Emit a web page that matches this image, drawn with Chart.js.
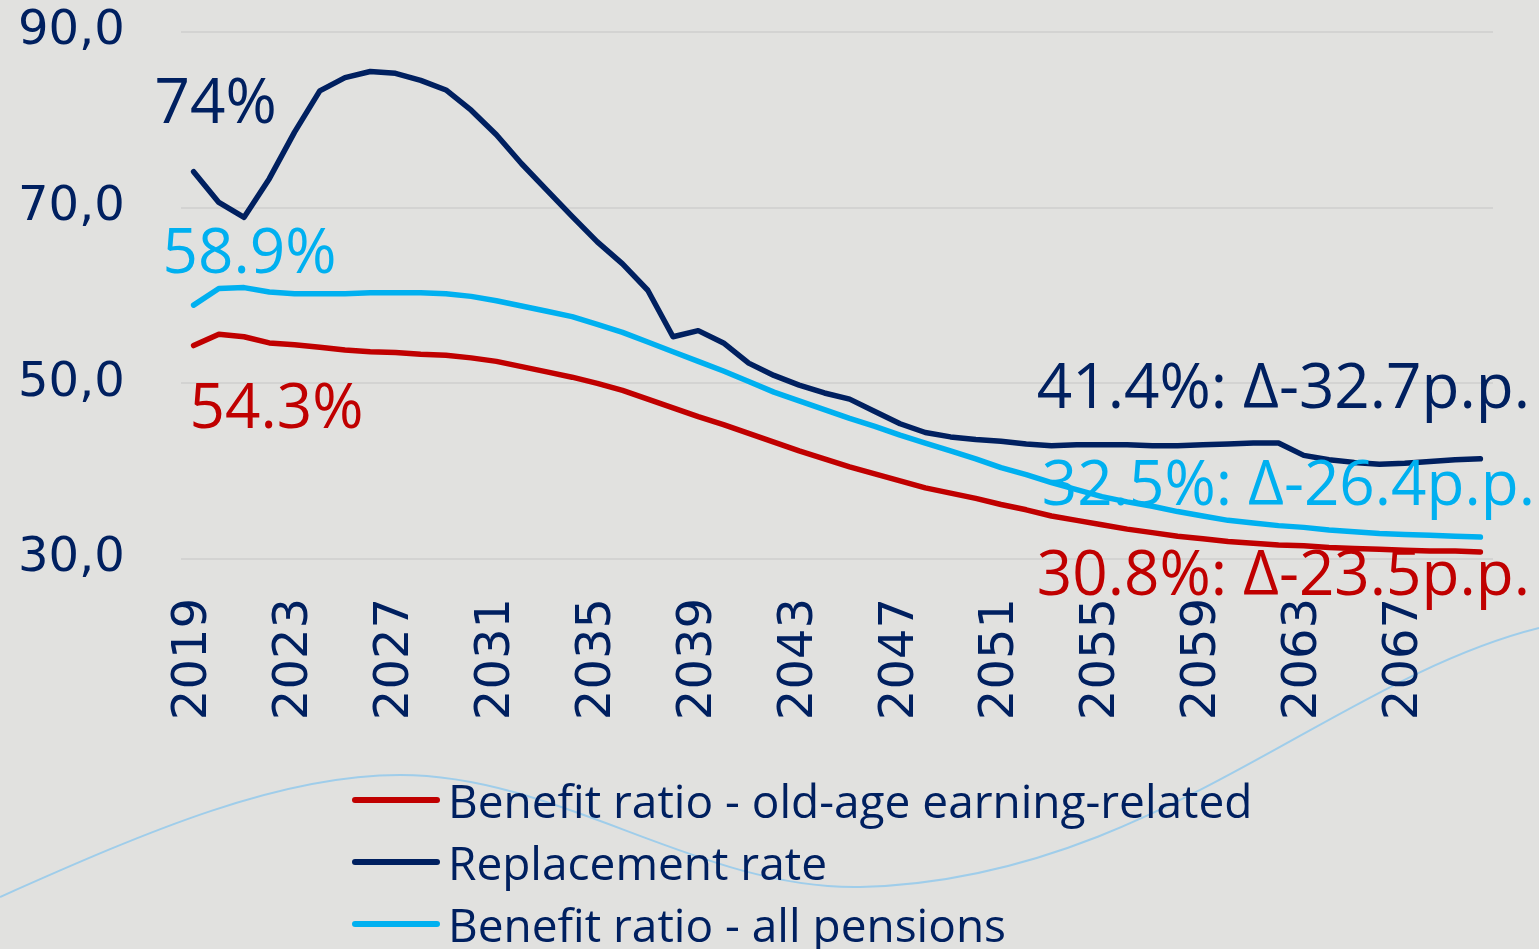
<!DOCTYPE html>
<html>
<head>
<meta charset="utf-8">
<script src="https://cdn.jsdelivr.net/npm/chart.js@4.4.1/dist/chart.umd.min.js"></script>
<style>
    html, body { margin: 0; padding: 0; background: #e1e1df; overflow: hidden; }
    #wrap { position: relative; width: 1539px; height: 949px; }
    #legend {
        position: absolute; left: 352px; top: 769px;
        font-family: "Open Sans", sans-serif; font-size: 46px; color: #002060;
    }
    .item { display: flex; align-items: center; height: 62px; white-space: nowrap; }
    .swatch { width: 88px; height: 6px; margin-right: 8px; border-radius: 3px; }
</style>
</head>
<body>
<div id="wrap">
    <canvas id="pensionChart" width="1539" height="949"></canvas>
    <div id="legend"></div>
</div>
<script>
// Data
const years = [
    2019, 2020, 2021, 2022, 2023, 2024, 2025, 2026, 2027, 2028,
    2029, 2030, 2031, 2032, 2033, 2034, 2035, 2036, 2037, 2038,
    2039, 2040, 2041, 2042, 2043, 2044, 2045, 2046, 2047, 2048,
    2049, 2050, 2051, 2052, 2053, 2054, 2055, 2056, 2057, 2058,
    2059, 2060, 2061, 2062, 2063, 2064, 2065, 2066, 2067, 2068,
    2069, 2070
];
const oldAgeRatio = [
    54.3, 55.6, 55.3, 54.6, 54.4, 54.1, 53.8, 53.6, 53.5, 53.3,
    53.2, 52.9, 52.5, 51.9, 51.3, 50.7, 50.0, 49.2, 48.2, 47.2,
    46.2, 45.3, 44.3, 43.3, 42.3, 41.4, 40.5, 39.7, 38.9, 38.1,
    37.5, 36.9, 36.2, 35.6, 34.9, 34.4, 33.9, 33.4, 33.0, 32.6,
    32.3, 32.0, 31.8, 31.6, 31.5, 31.3, 31.2, 31.1, 31.0, 30.9,
    30.9, 30.8
];
const replacementRate = [
    74.1, 70.6, 68.9, 73.3, 78.6, 83.3, 84.8, 85.5, 85.3, 84.5,
    83.4, 81.1, 78.3, 75.0, 72.0, 69.0, 66.1, 63.6, 60.6, 55.3,
    56.0, 54.6, 52.3, 50.9, 49.8, 48.9, 48.2, 46.8, 45.4, 44.4,
    43.9, 43.6, 43.4, 43.1, 42.9, 43.0, 43.0, 43.0, 42.9, 42.9,
    43.0, 43.1, 43.2, 43.2, 41.8, 41.3, 41.0, 40.8, 40.9, 41.1,
    41.3, 41.4
];
const allPensionsRatio = [
    58.9, 60.8, 60.9, 60.4, 60.2, 60.2, 60.2, 60.3, 60.3, 60.3,
    60.2, 59.9, 59.4, 58.8, 58.2, 57.6, 56.7, 55.8, 54.7, 53.6,
    52.5, 51.4, 50.2, 49.0, 48.0, 47.0, 46.0, 45.1, 44.1, 43.2,
    42.3, 41.4, 40.4, 39.6, 38.7, 37.9, 37.1, 36.5, 36.0, 35.4,
    34.9, 34.4, 34.1, 33.8, 33.6, 33.3, 33.1, 32.9, 32.8, 32.7,
    32.6, 32.5
];
const yTicks = [30, 50, 70, 90];

const NAVY = '#002060';
const RED = '#c00000';
const CYAN = '#00b0f0';

// Background + decorative wave
const backgroundPlugin = {
    id: 'background',
    beforeDraw(chart) {
        const ctx = chart.ctx;
        ctx.save();
        ctx.fillStyle = '#e1e1df';
        ctx.fillRect(0, 0, chart.width, chart.height);
        ctx.strokeStyle = '#9fcdea';
        ctx.lineWidth = 2;
        ctx.beginPath();
        ctx.moveTo(0, 897);
        ctx.bezierCurveTo(150, 830, 280, 775, 400, 775);
        ctx.bezierCurveTo(560, 775, 700, 890, 860, 887);
        ctx.bezierCurveTo(1150, 880, 1330, 680, 1539, 628);
        ctx.stroke();
        ctx.restore();
    }
};

// Value labels next to start and end points
const labelPlugin = {
    id: 'valueLabels',
    afterDatasetsDraw(chart) {
        const ctx = chart.ctx;
        const x = chart.scales.x;
        const y = chart.scales.y;
        const last = years.length - 1;
        const x0 = x.getPixelForValue(0);
        const right = 1530;
        ctx.save();
        ctx.font = '62px "Open Sans"';
        ctx.textBaseline = 'middle';

        ctx.textAlign = 'left';
        ctx.fillStyle = NAVY;
        ctx.fillText('74%', x0 - 39, y.getPixelForValue(replacementRate[0]) - 66);
        ctx.fillStyle = CYAN;
        ctx.fillText('58.9%', x0 - 31, y.getPixelForValue(allPensionsRatio[0]) - 50);
        ctx.fillStyle = RED;
        ctx.fillText('54.3%', x0 - 4, y.getPixelForValue(oldAgeRatio[0]) + 65);

        ctx.textAlign = 'right';
        ctx.fillStyle = NAVY;
        ctx.fillText('41.4%: Δ-32.7p.p.', right, y.getPixelForValue(replacementRate[last]) - 69);
        ctx.fillStyle = CYAN;
        ctx.fillText('32.5%: Δ-26.4p.p.', right + 5, y.getPixelForValue(allPensionsRatio[last]) - 50);
        ctx.fillStyle = RED;
        ctx.fillText('30.8%: Δ-23.5p.p.', right, y.getPixelForValue(oldAgeRatio[last]) + 25);
        ctx.restore();
    }
};

const ctx = document.getElementById('pensionChart').getContext('2d');
const pensionChart = new Chart(ctx, {
    type: 'line',
    data: {
        labels: years,
        datasets: [
            {
                label: 'Benefit ratio - old-age earning-related',
                data: oldAgeRatio,
                borderColor: RED,
                backgroundColor: RED
            },
            {
                label: 'Replacement rate',
                data: replacementRate,
                borderColor: NAVY,
                backgroundColor: NAVY
            },
            {
                label: 'Benefit ratio - all pensions',
                data: allPensionsRatio,
                borderColor: CYAN,
                backgroundColor: CYAN
            }
        ]
    },
    options: {
        responsive: false,
        animation: false,
        layout: { padding: { top: 32, right: 46, bottom: 0, left: 18 } },
        elements: {
            line: { borderWidth: 5.5, tension: 0, borderCapStyle: 'round', borderJoinStyle: 'round' },
            point: { radius: 0 }
        },
        plugins: {
            legend: { display: false },
            tooltip: { enabled: false }
        },
        scales: {
            x: {
                offset: true,
                grid: { display: false, drawTicks: false },
                border: { display: false },
                afterFit(axis) {
                    axis.height = 390;
                    axis.paddingLeft = 0;
                    axis.paddingRight = 0;
                },
                ticks: {
                    autoSkip: false,
                    maxRotation: 90,
                    minRotation: 90,
                    padding: 39,
                    color: NAVY,
                    font: { family: '"DejaVu Sans"', size: 48 },
                    callback: function(value, index) {
                        return index % 4 === 0 ? String(years[index]) : '';
                    }
                }
            },
            y: {
                min: yTicks[0],
                max: yTicks[yTicks.length - 1],
                afterFit(axis) {
                    axis.width = 163;
                    axis.paddingTop = 0;
                    axis.paddingBottom = 0;
                },
                afterBuildTicks(axis) {
                    axis.ticks = yTicks.map(v => ({ value: v }));
                },
                grid: { color: '#d3d3d2', lineWidth: 2, drawTicks: false },
                border: { display: false },
                ticks: {
                    crossAlign: 'far',
                    padding: 0,
                    color: NAVY,
                    font: { family: '"DejaVu Sans"', size: 48 },
                    callback: function(value) {
                        return value.toFixed(1).replace('.', ',');
                    }
                }
            }
        }
    },
    plugins: [backgroundPlugin, labelPlugin]
});

// Legend (stacked rows)
const legendEl = document.getElementById('legend');
pensionChart.data.datasets.forEach(ds => {
    const row = document.createElement('div');
    row.className = 'item';
    const sw = document.createElement('span');
    sw.className = 'swatch';
    sw.style.background = ds.borderColor;
    const txt = document.createElement('span');
    txt.textContent = ds.label;
    row.appendChild(sw);
    row.appendChild(txt);
    legendEl.appendChild(row);
});
</script>
</body>
</html>
